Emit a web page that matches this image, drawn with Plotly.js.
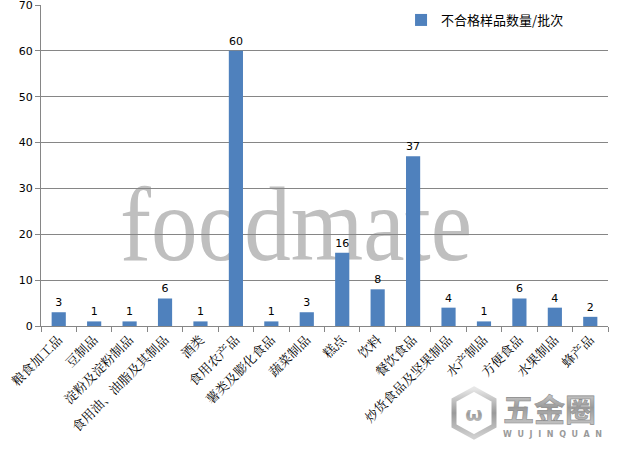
<!DOCTYPE html>
<html><head><meta charset="utf-8">
<script src="https://cdn.plot.ly/plotly-3.0.1.min.js"></script>
<style>
html,body{margin:0;padding:0;background:#fff}
#wrap{position:relative;width:619px;height:453px}
#bg{position:absolute;left:0;top:0}
#chart{position:absolute;left:0;top:0;width:619px;height:453px}
</style>
</head><body><div id="wrap">
<svg id="bg" width="619" height="453" xmlns="http://www.w3.org/2000/svg">
  <defs>
    <linearGradient id="metal" x1="0" y1="0" x2="0" y2="1">
      <stop offset="0" stop-color="#e6e6e6"/>
      <stop offset="0.5" stop-color="#9a9a9a"/>
      <stop offset="1" stop-color="#d0d0d0"/>
    </linearGradient>
  </defs>
  <text x="120" y="260" font-family="Liberation Serif" font-size="106" fill="#bfbfbf" textLength="352" lengthAdjust="spacingAndGlyphs">foodmate</text>
  <path d="M474,389 L494,400 L494,426 L474,437 L454,426 L454,400 Z" fill="none" stroke="url(#metal)" stroke-width="5"/>
  <text x="474" y="421" text-anchor="middle" font-family="DejaVu Sans" font-weight="bold" font-size="20" fill="url(#metal)">ω</text>
  <text x="503" y="421" font-family="Noto Sans CJK SC" font-weight="bold" font-size="31" fill="url(#metal)" stroke="#8c8c8c" stroke-width="0.6">五金圈</text>
  <text x="503" y="437" font-family="DejaVu Sans" font-weight="bold" font-size="8" fill="#9a9a9a" textLength="99" lengthAdjust="spacing">WUJINQUAN</text>
</svg>
<div id="chart"></div></div>
<script>
var categories = ["粮食加工品","豆制品","淀粉及淀粉制品","食用油、油脂及其制品","酒类","食用农产品","薯类及膨化食品","蔬菜制品","糕点","饮料","餐饮食品","炒货食品及坚果制品","水产制品","方便食品","水果制品","蜂产品"];
var values = [3,1,1,6,1,60,1,3,16,8,37,4,1,6,4,2];
var seriesName = "不合格样品数量/批次";
var yTicks = [0,10,20,30,40,50,60,70];

var trace = {
  type: "bar", x: categories, y: values, name: seriesName,
  marker: {color: "#4f81bd"}, width: 0.4,
  text: values.map(String), textposition: "outside", cliponaxis: false,
  textfont: {family: "DejaVu Sans", size: 11, color: "#000"}
};
var layout = {
  width: 619, height: 453,
  margin: {l: 41, r: 11, t: 5, b: 127},
  paper_bgcolor: "rgba(0,0,0,0)", plot_bgcolor: "rgba(0,0,0,0)",
  showlegend: true,
  legend: {x: 0.635, y: 1.0, xanchor: "left", yanchor: "top", bgcolor: "rgba(0,0,0,0)",
    font: {family: "Noto Sans CJK SC", size: 13, color: "#000"}, itemwidth: 30},
  xaxis: {type: "category", showgrid: false, showline: true, linecolor: "#868686", linewidth: 1,
    ticks: "outside", tickson: "boundaries", ticklen: 5, tickcolor: "#868686",
    tickangle: -45, tickfont: {family: "Noto Serif CJK SC, Noto Sans CJK SC", size: 13, color: "#000"}, automargin: false},
  yaxis: {range: [0, 70], tickvals: yTicks, showgrid: true, gridcolor: "#868686", gridwidth: 1,
    showline: true, linecolor: "#868686", ticks: "outside", ticklen: 5, tickcolor: "#868686",
    ticklabeloverflow: "allow",
    tickfont: {family: "DejaVu Sans", size: 11, color: "#000"}, zeroline: false, automargin: false},
  bargap: 0.6
};
Plotly.newPlot("chart", [trace], layout, {displayModeBar: false, staticPlot: true});
</script></body></html>
